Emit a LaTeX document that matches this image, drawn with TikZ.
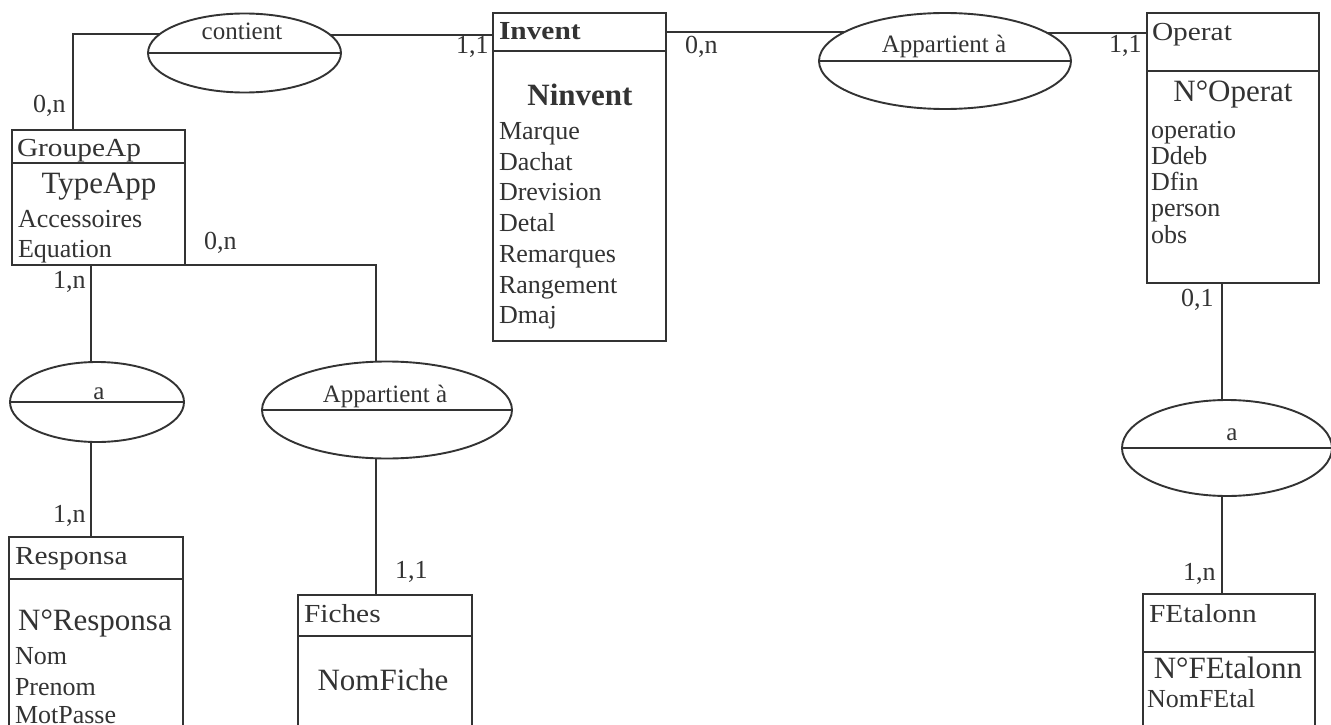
\documentclass[tikz,border=0pt]{standalone}
\usepackage{fontspec}
\setmainfont{Liberation Serif}
\usepackage{graphicx}
\usetikzlibrary{shapes.geometric,calc}
\definecolor{ink}{HTML}{333333}
\newcommand{\wide}[1]{\scalebox{1.13}[1]{#1}}
\tikzset{
  ent/.style={draw=ink, line width=1.9pt, rectangle, anchor=north west, inner sep=0pt, outer sep=0pt},
  rel/.style={draw=ink, line width=1.9pt, ellipse, inner sep=0pt, outer sep=0pt},
  lnk/.style={draw=ink, line width=1.9pt},
  attr/.style={anchor=base west, inner sep=0pt, outer sep=0pt, text=ink, font=\fontsize{26}{30}\selectfont},
  ttl/.style={anchor=base west, inner sep=0pt, outer sep=0pt, text=ink, font=\fontsize{26}{30}\selectfont},
  keyf/.style={anchor=base, inner sep=0pt, outer sep=0pt, text=ink, font=\fontsize{31}{36}\selectfont},
  card/.style={anchor=base west, inner sep=0pt, outer sep=0pt, text=ink, font=\fontsize{26}{30}\selectfont},
  rlab/.style={anchor=base, inner sep=0pt, outer sep=0pt, text=ink, font=\fontsize{25}{30}\selectfont},
}
\begin{document}
\begin{tikzpicture}[x=1pt,y=-1pt]
\useasboundingbox (0,0) rectangle (1331,725);
\fill[white] (0,0) rectangle (1331,725);

% ---------- entities ----------
\node[ent, minimum width=173pt, minimum height=135pt] (groupe) at (12,130) {};
\node[ent, minimum width=173pt, minimum height=328pt] (invent) at (493,13) {};
\node[ent, minimum width=172pt, minimum height=270pt] (operat) at (1147,13) {};
\node[ent, minimum width=174pt, minimum height=220pt] (resp) at (9,537) {};
\node[ent, minimum width=174pt, minimum height=200pt] (fiches) at (298,595) {};
\node[ent, minimum width=172pt, minimum height=200pt] (fetal) at (1143,594) {};

% title separators
\draw[lnk] ($(groupe.north west)+(0,33)$) -- ($(groupe.north east)+(0,33)$);
\draw[lnk] ($(invent.north west)+(0,38)$) -- ($(invent.north east)+(0,38)$);
\draw[lnk] ($(operat.north west)+(0,58)$) -- ($(operat.north east)+(0,58)$);
\draw[lnk] ($(resp.north west)+(0,42)$) -- ($(resp.north east)+(0,42)$);
\draw[lnk] ($(fiches.north west)+(0,41)$) -- ($(fiches.north east)+(0,41)$);
\draw[lnk] ($(fetal.north west)+(0,58)$) -- ($(fetal.north east)+(0,58)$);

% ---------- relationships ----------
\node[rel, minimum width=193pt, minimum height=79pt] (contient) at (244.5,53) {};
\node[rel, minimum width=252pt, minimum height=96pt] (app1) at (945,61) {};
\node[rel, minimum width=174pt, minimum height=80pt] (a1) at (97,402) {};
\node[rel, minimum width=250pt, minimum height=97pt] (app2) at (387,410) {};
\node[rel, minimum width=210pt, minimum height=96pt] (a2) at (1227,448) {};
\foreach \r in {contient,app1,a1,app2,a2}
  \draw[lnk] (\r.west) -- (\r.east);

\node[rlab] (lcontient) at (242,40) {contient};
\node[rlab] (lapp1) at (944,53) {Appartient à};
\node[rlab] (la1) at (99,399) {a};
\node[rlab] (lapp2) at (385,402) {Appartient à};
\node[rlab] (la2) at (1232,440) {a};

% ---------- connectors ----------
\coordinate (g1) at ($(groupe.north west)+(61,0)$);
\draw[lnk] (g1) |- (contient.167.34);
\draw[lnk] (contient.12.66) -- (contient.12.66 -| invent.west);
\draw[lnk] (app1.164.7) -- (app1.164.7 -| invent.east);
\draw[lnk] (app1.15.3) -- (app1.15.3 -| operat.west);
\coordinate (o1) at ($(operat.south west)+(75,0)$);
\draw[lnk] (o1) -- (o1 |- a2.north);
\draw[lnk] (o1 |- a2.south) -- (o1 |- fetal.north);
\coordinate (g2) at ($(groupe.south west)+(79,0)$);
\draw[lnk] (g2) -- (g2 |- a1.north);
\draw[lnk] (g2 |- a1.south) -- (g2 |- resp.north);
\coordinate (g3) at ($(groupe.south east)+(191,0)$);
\draw[lnk] (groupe.south east) -- (g3) -- (g3 |- app2.north);
\draw[lnk] (g3 |- app2.south) -- (g3 |- fiches.north);

% ---------- cardinalities ----------
\node[card] (c1) at (33,113) {0,n};
\node[card] (c2) at (456,54) {1,1};
\node[card] (c3) at (685,54) {0,n};
\node[card] (c4) at (1109,53) {1,1};
\node[card] (c5) at (1181,306) {0,1};
\node[card] (c6) at (1183,580) {1,n};
\node[card] (c7) at (53,288) {1,n};
\node[card] (c8) at (204,249) {0,n};
\node[card] (c9) at (53,522) {1,n};
\node[card] (c10) at (395,578) {1,1};

% ---------- GroupeAp ----------
\node[ttl] (tg) at (17,156) {\wide{GroupeAp}};
\node[keyf] (kg) at (99,193) {TypeApp};
\node[attr] (g_a1) at (18,227) {Accessoires};
\node[attr] (g_a2) at (18,257) {Equation};

% ---------- Invent ----------
\node[ttl, font=\fontsize{26}{30}\selectfont\bfseries] (ti) at (499,40) {\wide{Invent}};
\node[keyf, font=\fontsize{31}{36}\selectfont\bfseries] (ki) at (580,106) {Ninvent};
\node[attr] (i_a1) at (499,139) {Marque};
\node[attr] (i_a2) at (499,170) {Dachat};
\node[attr] (i_a3) at (499,200.5) {Drevision};
\node[attr] (i_a4) at (499,231) {Detal};
\node[attr] (i_a5) at (499,262) {Remarques};
\node[attr] (i_a6) at (499,293) {Rangement};
\node[attr] (i_a7) at (499,323.5) {Dmaj};

% ---------- Operat ----------
\node[ttl] (to) at (1152,41) {\wide{Operat}};
\node[keyf] (ko) at (1233,101) {N°Operat};
\node[attr] (o_a1) at (1151,138) {operatio};
\node[attr] (o_a2) at (1151,164) {Ddeb};
\node[attr] (o_a3) at (1151,190) {Dfin};
\node[attr] (o_a4) at (1151,216) {person};
\node[attr] (o_a5) at (1151,243) {obs};

% ---------- Responsa ----------
\node[ttl] (tr) at (15,564) {\wide{Responsa}};
\node[keyf] (kr) at (95,630) {N°Responsa};
\node[attr] (r_a1) at (15,664) {Nom};
\node[attr] (r_a2) at (15,695) {Prenom};
\node[attr] (r_a3) at (15,723) {MotPasse};

% ---------- Fiches ----------
\node[ttl] (tf) at (304,622) {\wide{Fiches}};
\node[keyf] (kf) at (383,690) {NomFiche};

% ---------- FEtalonn ----------
\node[ttl] (te) at (1149,622) {\wide{FEtalonn}};
\node[keyf] (ke) at (1228,678) {N°FEtalonn};
\node[attr] (e_a1) at (1147,707) {NomFEtal};
\end{tikzpicture}
\end{document}
